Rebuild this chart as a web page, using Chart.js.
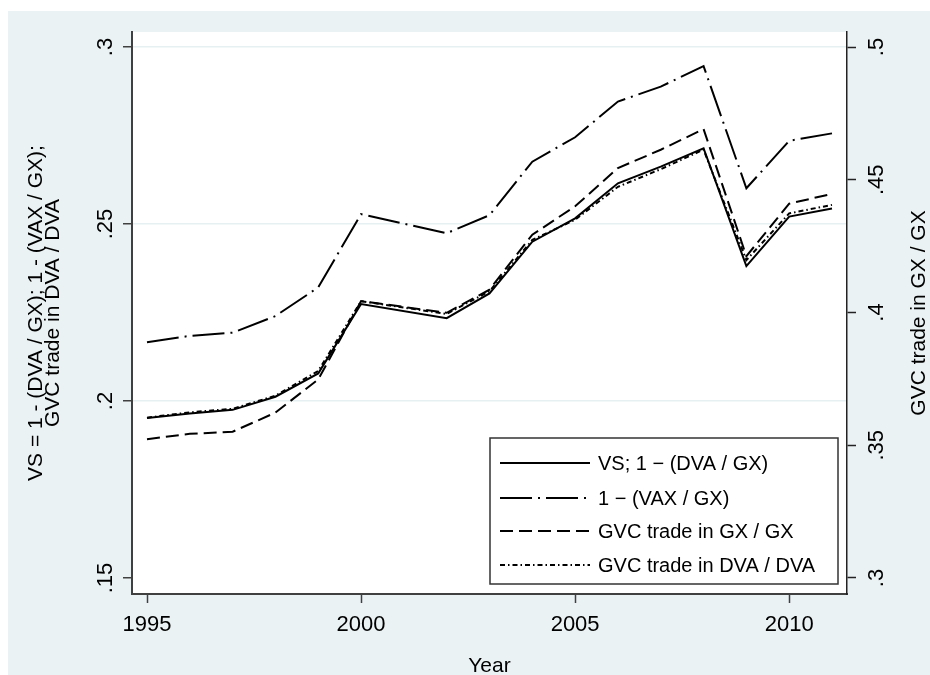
<!DOCTYPE html>
<html>
<head>
<meta charset="utf-8">
<script src="https://cdn.jsdelivr.net/npm/chart.js@4.4.1/dist/chart.umd.min.js"></script>
<style>
html,body{margin:0;padding:0;background:#fff;}
#wrap{width:930px;height:675px;position:relative;}
</style>
</head>
<body>
<div id="wrap"><canvas id="c" width="930" height="675"></canvas></div>
<script>
// ---- data ----
const years = [1995,1996,1997,1998,1999,2000,2002,2003,2004,2005,2006,2007,2008,2009,2010,2011];
const vsDva  = [0.1952,0.1965,0.1975,0.2012,0.2078,0.2274,0.2234,0.2304,0.2450,0.2516,0.2615,0.2662,0.2714,0.2381,0.2521,0.2544];
const vaxGx  = [0.2166,0.2184,0.2193,0.2240,0.2321,0.2528,0.2474,0.2525,0.2676,0.2745,0.2846,0.2888,0.2946,0.2601,0.2735,0.2756];
const gvcGx  = [0.3523,0.3543,0.3551,0.3623,0.3748,0.4043,0.3999,0.4086,0.4293,0.4400,0.4544,0.4613,0.4691,0.4212,0.4410,0.4447];
const gvcDva = [0.1953,0.1968,0.1978,0.2015,0.2085,0.2282,0.2246,0.2310,0.2455,0.2512,0.2605,0.2655,0.2710,0.2398,0.2530,0.2554];

const xTicks = [1995,2000,2005,2010];
const leftTicks = [0.15,0.20,0.25,0.30];
const leftTickLabels = ['.15','.2','.25','.3'];
const rightTicks = [0.30,0.35,0.40,0.45,0.50];
const rightTickLabels = ['.3','.35','.4','.45','.5'];

const seriesLabels = ['VS; 1 \u2212 (DVA / GX)','1 \u2212 (VAX / GX)','GVC trade in GX / GX','GVC trade in DVA / DVA'];
const leftTitle = ['VS = 1 - (DVA / GX); 1 - (VAX / GX);','GVC trade in DVA / DVA'];
const rightTitle = 'GVC trade in GX / GX';
const xTitle = 'Year';

// ---- styles ----
const FONT = '"Liberation Sans", Arial, Helvetica, sans-serif';
const BG = '#eaf2f3';
const GRID = '#e6eff1';
const AXIS = '#404040';

function pts(arr){ return years.map((yr,i)=>({x:yr,y:arr[i]})); }

const bgPlugin = {
  id:'bgPlugin',
  beforeDraw(chart){
    const {ctx, chartArea:a} = chart;
    ctx.save();
    ctx.fillStyle = '#ffffff';
    ctx.fillRect(0,0,chart.width,chart.height);
    ctx.fillStyle = BG;
    ctx.fillRect(8,11,chart.width-8,chart.height-11);
    ctx.fillStyle = '#ffffff';
    ctx.fillRect(a.left,a.top,a.right-a.left,a.bottom-a.top);
    ctx.restore();
  }
};

const extrasPlugin = {
  id:'extrasPlugin',
  afterDraw(chart){
    const {ctx, chartArea:a} = chart;
    ctx.save();
    // right axis title
    ctx.font = '21px ' + FONT;
    ctx.fillStyle = '#000';
    ctx.textAlign = 'center';
    ctx.textBaseline = 'middle';
    ctx.translate(919, (a.top + a.bottom)/2);
    ctx.rotate(-Math.PI/2);
    ctx.fillText(rightTitle, 0, 0);
    ctx.restore();

    // legend box inside plot
    const bx = a.right - 357, by = a.bottom - 156, bw = 348, bh = 146;
    ctx.save();
    ctx.fillStyle = '#fff';
    ctx.fillRect(bx,by,bw,bh);
    ctx.strokeStyle = '#333';
    ctx.lineWidth = 1.5;
    ctx.strokeRect(bx,by,bw,bh);
    const rows = [25,60,93,127];
    chart.data.datasets.forEach((ds,i)=>{
      const y = by + rows[i];
      ctx.beginPath();
      ctx.setLineDash(ds.borderDash || []);
      ctx.lineWidth = ds.borderWidth;
      ctx.strokeStyle = ds.borderColor;
      ctx.moveTo(bx+10,y);
      ctx.lineTo(bx+100,y);
      ctx.stroke();
      ctx.setLineDash([]);
      ctx.font = '20px ' + FONT;
      ctx.fillStyle = '#000';
      ctx.textAlign = 'left';
      ctx.textBaseline = 'middle';
      ctx.fillText(ds.label, bx+108, y+1);
    });
    ctx.restore();
  }
};

const common = {borderColor:'#000', borderWidth:2, pointRadius:0, pointHoverRadius:0, fill:false, tension:0};

new Chart(document.getElementById('c'), {
  type:'line',
  data:{
    datasets:[
      Object.assign({label:seriesLabels[0], data:pts(vsDva), yAxisID:'y'}, common),
      Object.assign({label:seriesLabels[1], data:pts(vaxGx), yAxisID:'y'}, common, {borderDash:[32,6,2,6]}),
      Object.assign({label:seriesLabels[2], data:pts(gvcGx), yAxisID:'y1'}, common, {borderDash:[13,6]}),
      Object.assign({label:seriesLabels[3], data:pts(gvcDva), yAxisID:'y'}, common, {borderDash:[5,3,1.5,3]})
    ]
  },
  options:{
    responsive:false,
    animation:false,
    devicePixelRatio:1,
    layout:{padding:{left:8,top:32,right:0,bottom:0}},
    plugins:{legend:{display:false}, tooltip:{enabled:false}},
    scales:{
      x:{
        type:'linear',
        min:1994.6495, max:2011.3505,
        afterBuildTicks(s){ s.ticks = xTicks.map(v=>({value:v})); },
        afterFit(s){ s.height = 81; },
        ticks:{callback:(v)=>String(v), font:{family:FONT,size:22}, color:'#000', padding:9, maxRotation:0, autoSkip:false},
        grid:{display:true, drawOnChartArea:false, drawTicks:true, tickLength:9, tickColor:AXIS, tickWidth:1.5},
        border:{display:true, color:AXIS, width:2},
        title:{display:true, text:xTitle, color:'#000', font:{family:FONT,size:21,lineHeight:0.8}, padding:{top:0,bottom:0}}
      },
      y:{
        type:'linear', position:'left',
        min:0.14548, max:0.304237,
        afterBuildTicks(s){ s.ticks = leftTicks.map(v=>({value:v})); },
        afterFit(s){ s.width = 124; },
        ticks:{callback:(v,i)=>leftTickLabels[i], font:{family:FONT,size:22}, color:'#000', padding:2, minRotation:90, maxRotation:90, crossAlign:'center', autoSkip:false},
        grid:{color:(c)=> (c.tick && Math.abs(c.tick.value-0.15)<1e-9) ? 'rgba(0,0,0,0)' : GRID, lineWidth:1.5, tickLength:9, tickColor:AXIS, tickWidth:1.5},
        border:{display:true, color:AXIS, width:2},
        title:{display:true, text:leftTitle, color:'#000', font:{family:FONT,size:21,lineHeight:'17px'}, padding:{top:20,bottom:0}}
      },
      y1:{
        type:'linear', position:'right',
        min:0.29397, max:0.50565,
        afterBuildTicks(s){ s.ticks = rightTicks.map(v=>({value:v})); },
        afterFit(s){ s.width = 83; },
        ticks:{callback:(v,i)=>rightTickLabels[i], font:{family:FONT,size:22}, color:'#000', padding:6, minRotation:90, maxRotation:90, crossAlign:'center', autoSkip:false},
        grid:{drawOnChartArea:false, tickLength:9, tickColor:'#222', tickWidth:1.5},
        border:{display:true, color:'#222', width:1.5}
      }
    }
  },
  plugins:[bgPlugin, extrasPlugin]
});
</script>
</body>
</html>
